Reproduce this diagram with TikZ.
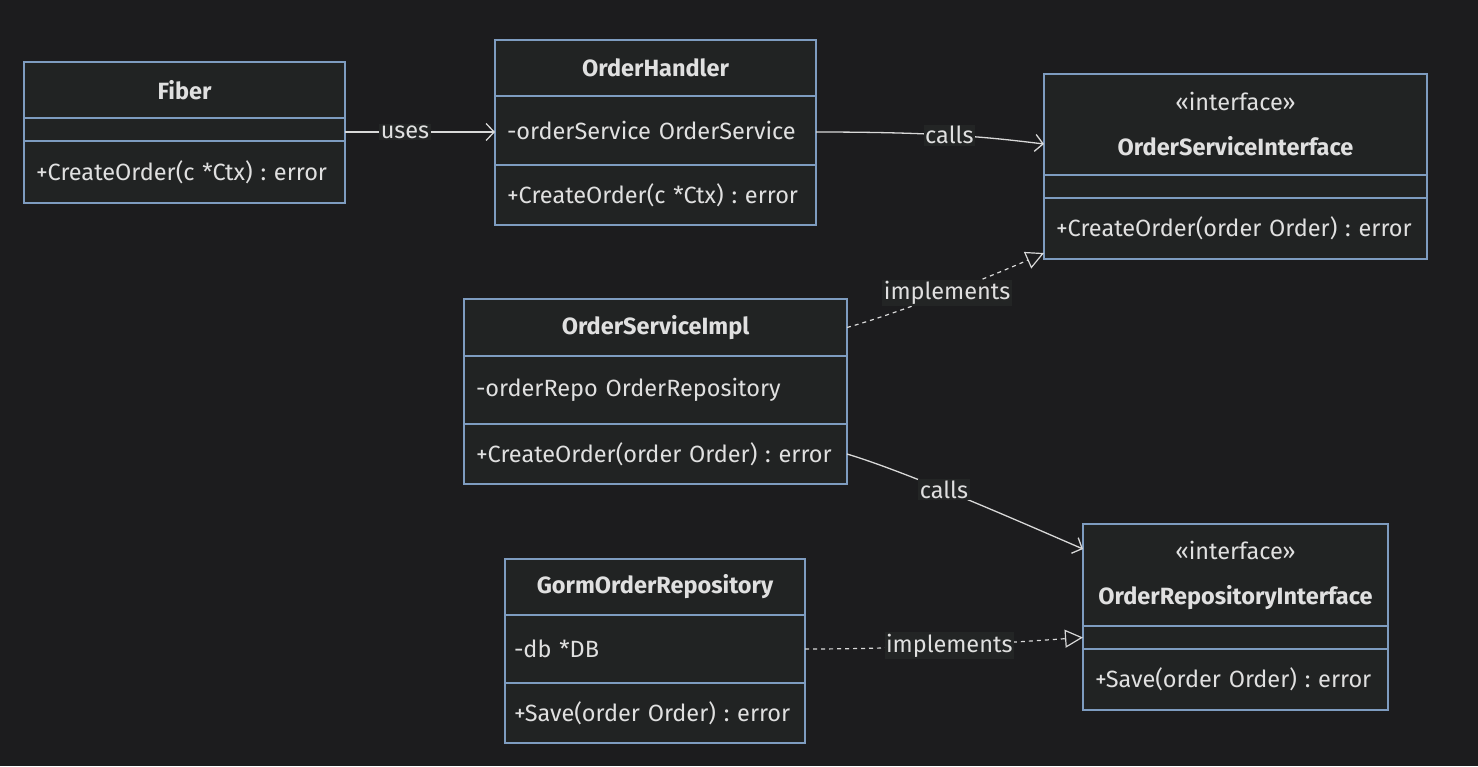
\documentclass[tikz,border=0pt]{standalone}
\usepackage{fontspec}
\setmainfont{Fira Sans}
\usetikzlibrary{arrows.meta, positioning}
\definecolor{umlbg}{HTML}{1C1C1E}
\definecolor{umlfill}{HTML}{212323}
\definecolor{umlborder}{HTML}{7E9CC0}
\definecolor{umltext}{HTML}{E0E0E0}
\definecolor{umlline}{HTML}{D8D8D8}
\definecolor{umllabel}{HTML}{232525}
\newcommand{\umlfont}{\fontsize{23.5}{28}\selectfont\frenchspacing\hyphenpenalty=10000\exhyphenpenalty=10000}
\tikzstyle{classpart} = [draw=umlborder, fill=umlfill, text=umltext, line width=1.2pt, inner xsep=12pt, inner ysep=0pt, outer sep=0pt, font=\umlfont]
\tikzstyle{classhead} = [classpart, font=\umlfont\bfseries, align=center]
\tikzstyle{classbody} = [classpart, align=left]
\tikzstyle{arrow} = [line width=1.3pt, draw=umlline, -{Straight Barb[length=8pt,width=17pt]}]
\tikzstyle{realize} = [line width=1.2pt, draw=umlline, dash pattern=on 4pt off 4pt, -{Triangle[length=18pt,width=18pt,fill=umlbg]}]
\tikzstyle{edgelabel} = [fill=umllabel, text=umltext, inner sep=1.5pt, font=\umlfont]

\begin{document}
\begin{tikzpicture}[x=1pt, y=-1pt]
        \fill[umlbg] (0,0) rectangle (1478,766);

        \node (fiber) [classhead, minimum width=321pt, minimum height=56pt] at (184.5,90) {Fiber};
        \node (fiberAttr) [classbody, text width=297pt, minimum height=23pt, below=0pt of fiber] {};
        \node (fiberOps) [classbody, text width=297pt, minimum height=62pt, below=0pt of fiberAttr] {+CreateOrder(c *Ctx) : error};

        \node (handler) [classhead, minimum width=321pt, minimum height=56pt] at (655.5,68) {OrderHandler};
        \node (handlerAttr) [classbody, text width=297pt, minimum height=69pt, below=0pt of handler] {-orderService OrderService};
        \node (handlerOps) [classbody, text width=297pt, minimum height=60pt, below=0pt of handlerAttr] {+CreateOrder(c *Ctx) : error};

        \node (serviceIface) [classhead, minimum width=383pt, minimum height=101pt] at (1235.5,124.5) {{\mdseries «interface»}\\[17pt]OrderServiceInterface};
        \node (serviceIfaceAttr) [classbody, text width=359pt, minimum height=23pt, below=0pt of serviceIface] {};
        \node (serviceIfaceOps) [classbody, text width=359pt, minimum height=61pt, below=0pt of serviceIfaceAttr] {+CreateOrder(order Order) : error};

        \node (serviceImpl) [classhead, minimum width=383pt, minimum height=57pt] at (655.5,327.5) {OrderServiceImpl};
        \node (serviceImplAttr) [classbody, text width=359pt, minimum height=68pt, below=0pt of serviceImpl] {-orderRepo OrderRepository};
        \node (serviceImplOps) [classbody, text width=359pt, minimum height=60pt, below=0pt of serviceImplAttr] {+CreateOrder(order Order) : error};

        \node (gormRepo) [classhead, minimum width=300pt, minimum height=56pt] at (655,587) {GormOrderRepository};
        \node (gormRepoAttr) [classbody, text width=282pt, inner xsep=9pt, minimum height=68pt, below=0pt of gormRepo] {-db *DB};
        \node (gormRepoOps) [classbody, text width=282pt, inner xsep=9pt, minimum height=60pt, below=0pt of gormRepoAttr] {+Save(order Order) : error};

        \node (repoIface) [classhead, minimum width=305pt, minimum height=102pt] at (1235.5,575) {{\mdseries «interface»}\\[17pt]OrderRepositoryInterface};
        \node (repoIfaceAttr) [classbody, text width=281pt, minimum height=23pt, below=0pt of repoIface] {};
        \node (repoIfaceOps) [classbody, text width=281pt, minimum height=61pt, below=0pt of repoIfaceAttr] {+Save(order Order) : error};

        % relations
        \draw[arrow] ([yshift=-2.5pt]fiberAttr.east) -- ([yshift=-2.5pt]fiberAttr.east -| handlerAttr.west) node[edgelabel, pos=0.4] {uses};
        \draw[arrow] ([yshift=-1.5pt]handlerAttr.east) .. controls +(130,0) and +(-50,-6) .. ([yshift=-19.5pt]serviceIface.west) node[edgelabel, pos=0.45] {calls};
        \draw[realize] (serviceImpl.east) .. controls +(60,-17) and +(-50,22) .. ([yshift=6pt]serviceIfaceOps.south west) node[edgelabel, pos=0.49] {implements};
        \draw[arrow] (serviceImplOps.east) .. controls +(60,18) and +(-60,-26) .. ([yshift=26pt]repoIface.west) node[edgelabel, pos=0.42] {calls};
        \draw[realize] (gormRepoAttr.east) .. controls +(120,0) and +(-60,4) .. (repoIfaceAttr.west) node[edgelabel, pos=0.44] {implements};
    \end{tikzpicture}
\end{document}
